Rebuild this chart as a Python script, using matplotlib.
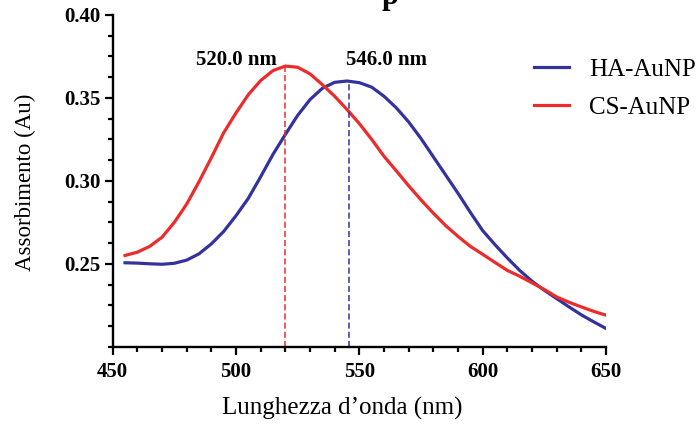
import matplotlib

matplotlib.use("Agg")
import matplotlib.pyplot as plt
from matplotlib.ticker import MultipleLocator, FixedLocator

# wavelength (nm) and absorbance
wavelength = [455, 460, 465, 470, 475, 480, 485, 490, 495, 500,
              505, 510, 515, 520, 525, 530, 535, 540, 545, 550,
              555, 560, 565, 570, 575, 580, 585, 590, 595, 600,
              605, 610, 615, 620, 625, 630, 635, 640, 645, 650]
ha_aunp = [0.2506, 0.2504, 0.2500, 0.2497, 0.2503, 0.2522, 0.2560, 0.2620, 0.2695, 0.2790,
           0.2895, 0.3025, 0.3160, 0.3280, 0.3395, 0.3490, 0.3558, 0.3594, 0.3602, 0.3592,
           0.3565, 0.3510, 0.3440, 0.3355, 0.3255, 0.3145, 0.3035, 0.2925, 0.2810, 0.2700,
           0.2615, 0.2535, 0.2460, 0.2395, 0.2340, 0.2290, 0.2240, 0.2192, 0.2150, 0.2110]
cs_aunp = [0.2550, 0.2570, 0.2605, 0.2660, 0.2750, 0.2860, 0.2995, 0.3140, 0.3290, 0.3410,
           0.3520, 0.3605, 0.3665, 0.3692, 0.3685, 0.3645, 0.3580, 0.3510, 0.3430, 0.3345,
           0.3250, 0.3148, 0.3060, 0.2970, 0.2885, 0.2805, 0.2730, 0.2665, 0.2605, 0.2557,
           0.2508, 0.2460, 0.2425, 0.2385, 0.2345, 0.2300, 0.2268, 0.2240, 0.2213, 0.2190]
peak_labels = ["520.0 nm", "546.0 nm"]
peak_wl = [520.0, 546.0]
peak_abs = [0.3692, 0.3602]

BLUE = "#34329c"
RED = "#ee2b2b"
SERIF = ["Liberation Serif", "DejaVu Serif"]

plt.rcParams["font.family"] = SERIF

fig = plt.figure(figsize=(6.96, 4.34), dpi=100)
ax = fig.add_axes([112.7 / 696, 1 - 346.7 / 434, (606 - 112.7) / 696, (346.7 - 15) / 434])

ax.plot(wavelength, ha_aunp, color=BLUE, lw=2.3, label="HA-AuNP")
ax.plot(wavelength, cs_aunp, color=RED, lw=2.3, label="CS-AuNP")

for wl, ab, col, txt, tx in zip(peak_wl, peak_abs, [RED, BLUE], peak_labels, [236.7, 386.7]):
    ax.vlines(wl, 0.20, ab, colors=col, linestyles=(0, (4, 2)), lw=1.1)
    fig.text(tx / 696, 1 - 65 / 434, txt, ha="center", va="baseline",
             fontsize=15, fontweight="bold")

ax.set_xlim(450, 650)
ax.set_ylim(0.20, 0.40)
ax.xaxis.set_major_locator(MultipleLocator(50))
ax.xaxis.set_minor_locator(MultipleLocator(10))
ax.yaxis.set_major_locator(FixedLocator([0.25, 0.30, 0.35, 0.40]))
ax.yaxis.set_minor_locator(MultipleLocator(0.0125))
ax.yaxis.set_major_formatter(plt.FuncFormatter(lambda v, p: f"{v:.2f}"))

for side in ("top", "right"):
    ax.spines[side].set_visible(False)
for side in ("left", "bottom"):
    ax.spines[side].set_linewidth(1.7)

ax.tick_params(which="major", length=6, width=1.6, labelsize=15, pad=3)
ax.tick_params(which="minor", length=3.5, width=1.6)
ax.tick_params(axis="x", which="major", pad=5)
for lab in ax.get_xticklabels() + ax.get_yticklabels():
    lab.set_fontweight("bold")

fig.text(25 / 696, 1 - 182 / 434, "Assorbimento (Au)", rotation=90,
         ha="center", va="center", fontsize=16.5)
fig.text(342 / 696, 1 - 408 / 434, "Lunghezza d\u2019onda (nm)",
         ha="center", va="center", fontsize=18)

# title cut off at the top of the original image
fig.text(390 / 696, 1 - 4 / 434, "p", ha="center", va="baseline",
         fontsize=22, fontweight="bold")

ax.legend(loc="upper left", bbox_to_anchor=(534 / 696, 1 - 58 / 434),
          bbox_transform=fig.transFigure, frameon=False, fontsize=18,
          handlelength=1.4, handletextpad=0.8, labelspacing=0.64,
          borderpad=0, borderaxespad=0)

fig.savefig("out.png", dpi=100, facecolor="white")
